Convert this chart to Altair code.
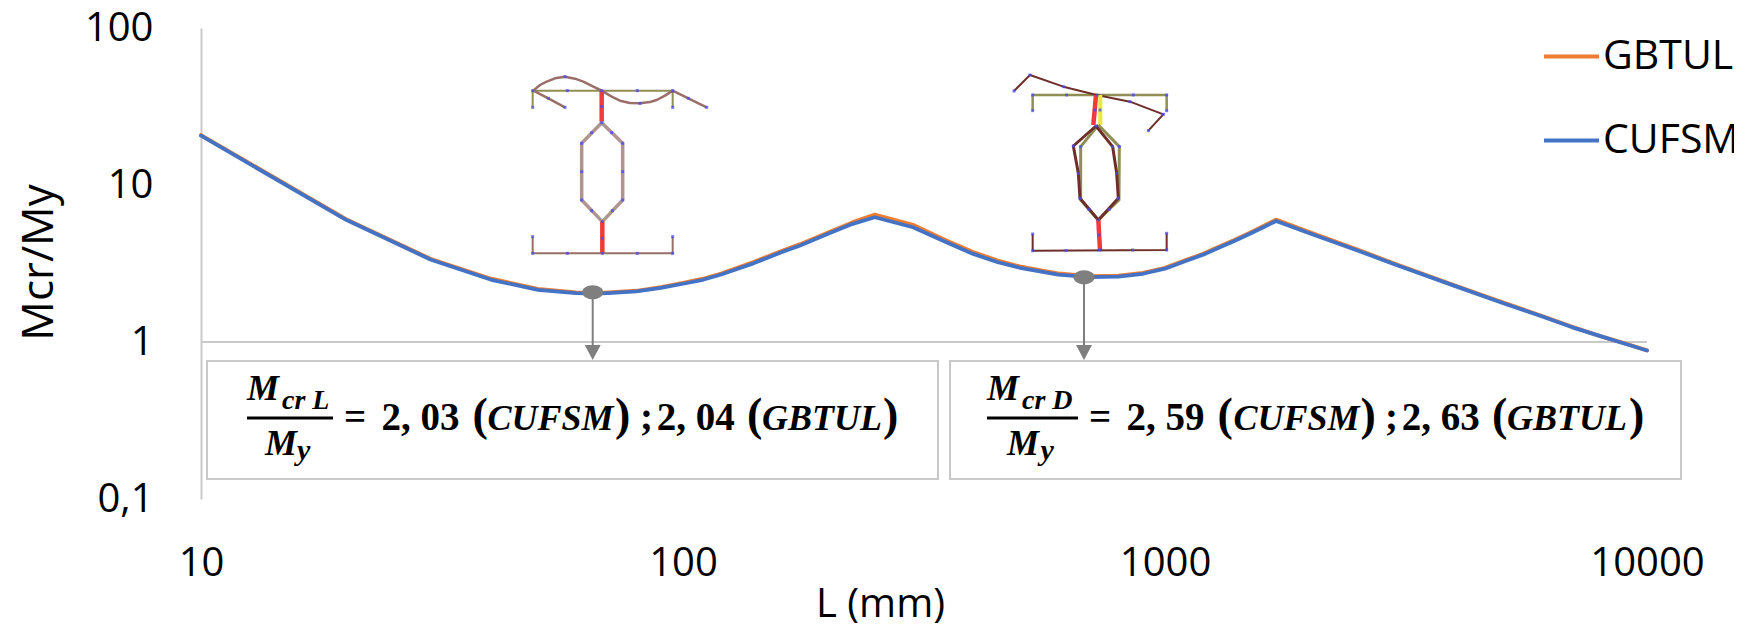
import altair as alt
import pandas as pd

# ---- curve values
L = [10, 20, 30, 40, 50, 60, 65, 70, 80, 90, 100, 110, 120, 130, 140, 160, 175, 200, 225, 250, 300, 350, 400, 450, 500, 550, 600, 700, 800, 900,
     1000, 1100, 1200, 1300, 1400, 1500, 1600, 1700, 2000, 2500, 3000, 4000, 5000, 6000, 7000, 8000, 9000, 10000]
CUFSM = [20.6, 6.0, 3.34, 2.49, 2.15, 2.05, 2.03, 2.05, 2.10, 2.21, 2.35, 2.49, 2.69, 2.93, 3.17, 3.73, 4.12, 4.89, 5.66, 6.23, 5.38, 4.35, 3.64, 3.22,
         2.97, 2.82, 2.69, 2.59, 2.61, 2.72, 2.93, 3.27, 3.6, 4.01, 4.43, 4.89, 5.38, 5.9, 4.91, 3.84, 3.12, 2.27, 1.78, 1.47, 1.24, 1.09, 0.975, 0.883]
GBTUL = [20.8, 6.05, 3.38, 2.53, 2.18, 2.07, 2.04, 2.07, 2.12, 2.24, 2.38, 2.53, 2.73, 2.98, 3.23, 3.8, 4.2, 4.98, 5.8, 6.49, 5.58, 4.47, 3.74, 3.3,
         3.03, 2.87, 2.74, 2.63, 2.65, 2.76, 2.97, 3.31, 3.65, 4.07, 4.5, 4.97, 5.48, 6.02, 5.0, 3.9, 3.15, 2.29, 1.8, 1.48, 1.25, 1.09, 0.98, 0.885]
SERIES = ["GBTUL", "CUFSM"]
COLORS = ["#ED7D31", "#4472C4"]
X_TICKS = [10, 100, 1000, 10000]
Y_TICKS = [0.1, 1, 10, 100]

FONT = "Open Sans"
GREY = "#c9c9c9"
W, H = 1446, 471
X0, Y0 = 201, 28  # picture position of the plot area

curve = pd.DataFrame(
    [{"L": l, "ratio": g, "series": "GBTUL"} for l, g in zip(L, GBTUL)]
    + [{"L": l, "ratio": c, "series": "CUFSM"} for l, c in zip(L, CUFSM)]
)

# ---- picture-space scales for the annotations
ax = alt.Scale(domain=[X0, X0 + W], nice=False, zero=False)
ay = alt.Scale(domain=[Y0 + H, Y0], nice=False, zero=False)
PX = alt.X("x:Q", scale=ax, axis=None)
PY = alt.Y("y:Q", scale=ay, axis=None)

# ---- cross-section sketches, (x, y) in crop units
OLIVE = "#8f8f55"
BROWN = "#9a6f6a"
PALE = "#b09490"
DARK = "#6e2f2a"
RED = "#f23a3a"
YEL = "#eee83a"
S1 = [
    (OLIVE, 2, [(158, 172), (158, 122), (578, 122), (578, 172)]),
    (BROWN, 2.5, [(255, 172), (205, 145), (160, 122), (180, 105), (200, 95), (225, 85), (255, 80), (285, 86), (310, 95),
                  (340, 110), (365, 122), (395, 140), (420, 152), (450, 159), (480, 160), (510, 156), (530, 150),
                  (555, 137), (578, 122), (625, 145), (680, 172)]),
    (RED, 4.5, [(365, 122), (365, 215)]),
    (PALE, 3.5, [(365, 218), (305, 280), (305, 450), (367, 515), (428, 450), (428, 280), (365, 218)]),
    (RED, 4.5, [(367, 515), (367, 610)]),
    (BROWN, 2, [(158, 560), (158, 610), (578, 610), (578, 560)]),
]
S1_NODES = [(158, 122), (158, 172), (262, 122), (365, 122), (472, 122), (578, 122), (578, 172), (205, 145), (255, 172),
            (625, 145), (680, 172), (255, 80), (480, 160), (365, 170), (365, 218), (335, 248), (395, 248), (305, 280),
            (428, 280), (305, 365), (428, 365), (305, 450), (428, 450), (335, 482), (397, 482), (367, 515), (367, 565),
            (158, 560), (158, 610), (262, 610), (367, 610), (472, 610), (578, 610), (578, 560)]
S2 = [
    (OLIVE, 2.5, [(128, 182), (128, 135), (530, 135), (530, 182)]),
    (DARK, 2, [(72, 123), (120, 75), (220, 110), (320, 135), (420, 155), (520, 193), (475, 242)]),
    (RED, 4.5, [(318, 135), (310, 225)]),
    (YEL, 4, [(331, 135), (331, 225)]),
    (OLIVE, 3, [(325, 225), (272, 290), (272, 450), (325, 510), (387, 450), (388, 290), (325, 225)]),
    (DARK, 3, [(318, 228), (250, 288), (265, 370), (270, 445), (325, 510), (385, 445), (380, 370), (368, 290), (318, 228)]),
    (RED, 4.5, [(325, 510), (330, 600)]),
    (DARK, 2, [(128, 552), (128, 602), (530, 600), (530, 550)]),
]
S2_NODES = [(72, 123), (120, 75), (220, 110), (320, 135), (420, 155), (520, 193), (475, 242), (128, 135), (128, 182),
            (230, 135), (430, 135), (530, 135), (530, 182), (315, 180), (330, 180), (318, 228), (250, 288), (272, 290),
            (388, 290), (368, 290), (265, 370), (380, 370), (270, 445), (385, 445), (297, 478), (357, 478), (325, 510),
            (327, 555), (128, 552), (128, 602), (228, 602), (328, 600), (428, 600), (530, 600), (530, 550)]

rows, nodes = [], []
k = 0
for sketch, nd, ox, oy in ((S1, S1_NODES, 480, 50), (S2, S2_NODES, 990, 50)):
    for color, width, pts in sketch:
        k += 1
        for i, (a, b) in enumerate(pts):
            rows.append({"x": ox + a / 3, "y": oy + b / 3, "g": k, "i": i, "c": color, "w": width})
    for a, b in nd:
        nodes.append({"x": ox + a / 3, "y": oy + b / 3})
sketch_df = pd.DataFrame(rows)
nodes_df = pd.DataFrame(nodes)

sketch_lines = alt.Chart(sketch_df).mark_line(strokeJoin="round", clip=False).encode(
    x=PX, y=PY, detail="g:N", order="i:Q",
    stroke=alt.Stroke("c:N", scale=None),
    strokeWidth=alt.StrokeWidth("w:Q", scale=None),
)
sketch_nodes = alt.Chart(nodes_df).mark_point(filled=True, color="#4a4af0", opacity=0.75, size=9, shape="square").encode(x=PX, y=PY)

# ---- annotation boxes
BOX_LEFT = [207, 950]
BOX_RIGHT = [938, 1681]
BOX_TOP = [361, 361]
BOX_BOTTOM = [479, 479]
boxes = alt.Chart(pd.DataFrame({"x": BOX_LEFT, "x2": BOX_RIGHT, "y": BOX_TOP, "y2": BOX_BOTTOM})).mark_rect(
    fill="white", stroke=GREY, strokeWidth=2
).encode(x=PX, x2="x2:Q", y=PY, y2="y2:Q")

# ---- markers and arrows
MARK_X = [592.7, 1084]
MARK_Y = [292.3, 277.3]
STEM_END = [348, 348]
TIP_Y = [352.5, 352.5]
GREY2 = "#7f7f7f"
stems = alt.Chart(pd.DataFrame({"x": MARK_X, "y": MARK_Y, "y2": STEM_END})).mark_rule(color=GREY2, strokeWidth=2).encode(
    x=PX, y=PY, y2="y2:Q")
dots = alt.Chart(pd.DataFrame({"x": MARK_X, "y": MARK_Y})).mark_point(
    filled=True, color=GREY2, opacity=1, size=441,
    shape="M-1,0A1,0.67,0,1,1,1,0A1,0.67,0,1,1,-1,0Z",
).encode(x=PX, y=PY)
tips = alt.Chart(pd.DataFrame({"x": MARK_X, "y": TIP_Y})).mark_point(
    filled=True, color=GREY2, opacity=1, size=256,
    shape="M-1,-0.94L1,-0.94L0,0.94Z",
).encode(x=PX, y=PY)

# ---- formula text
FRAC_X = [247, 987]
FRAC_X2 = [333, 1078]
FRAC_Y = [418, 418]
frac = alt.Chart(pd.DataFrame({"x": FRAC_X, "x2": FRAC_X2, "y": FRAC_Y})).mark_rule(color="black", strokeWidth=3).encode(
    x=PX, x2="x2:Q", y=PY)

EQ_Y = 430
UP_T = ["=", "2, 03", "(", ")", ";", "2, 04", "(", ")", "=", "2, 59", "(", ")", ";", "2, 63", "(", ")"]
UP_X = [344, 381.5, 472.6, 615, 640, 656.7, 747, 883, 1089, 1126.6, 1217.6, 1360.4, 1385, 1401.7, 1492, 1629]
UP_S = [39, 39, 46, 46, 39, 39, 46, 46, 39, 39, 46, 46, 39, 39, 46, 46]
IT_T = ["CUFSM", "GBTUL", "CUFSM", "GBTUL", "M", "M", "M", "M", "cr L", "cr D", "y", "y"]
IT_X = [487.5, 762, 1233.5, 1507, 247, 987, 265, 1007, 282, 1022, 297, 1040.5]
IT_Y = [EQ_Y, EQ_Y, EQ_Y, EQ_Y, 400, 400, 455, 455, 409, 409, 460, 460]
IT_S = [36, 36, 36, 36, 36, 36, 36, 36, 28, 28, 30, 30]

up_text = alt.Chart(pd.DataFrame({"x": UP_X, "y": [EQ_Y] * len(UP_X), "t": UP_T, "s": UP_S})).mark_text(
    font="Liberation Serif", fontWeight="bold", align="left", baseline="alphabetic", color="black"
).encode(x=PX, y=PY, text="t:N", size=alt.Size("s:Q", scale=None))
it_text = alt.Chart(pd.DataFrame({"x": IT_X, "y": IT_Y, "t": IT_T, "s": IT_S})).mark_text(
    font="Liberation Serif", fontWeight="bold", fontStyle="italic", align="left", baseline="alphabetic", color="black"
).encode(x=PX, y=PY, text="t:N", size=alt.Size("s:Q", scale=None))

# ---- main chart
x_main = alt.X(
    "L:Q",
    scale=alt.Scale(type="log", domain=[10, 10000], nice=False),
    axis=alt.Axis(
        values=X_TICKS, format="d", ticks=False, grid=False, domain=False,
        labelFont=FONT, labelFontSize=40, labelColor="black", labelPadding=64, labelFlush=False,
        labelOverlap=False, labelBaseline="middle",
        title="L (mm)", titleFont=FONT, titleFontSize=40, titleFontWeight="normal", titleColor="black",
        titleX=679, titleY=105, titleAnchor="middle", titleAlign="center", titleBaseline="middle",
    ),
)
y_main = alt.Y(
    "ratio:Q",
    scale=alt.Scale(type="log", domain=[0.1, 100], nice=False),
    axis=alt.Axis(
        values=Y_TICKS, labelExpr="replace(format(datum.value, '~g'), '.', ',')", ticks=False, grid=False,
        domain=True, domainColor=GREY, domainWidth=2,
        labelFont=FONT, labelFontSize=40, labelColor="black", labelPadding=48, labelOverlap=False, labelFlush=False,
        labelOffset=0,
        title="Mcr/My", titleFont=FONT, titleFontSize=44, titleFontWeight="normal", titleColor="black",
        titleX=-162, titleY=234, titleAngle=-90, titleAlign="center", titleBaseline="middle",
    ),
)
lines = alt.Chart(curve).mark_line(strokeWidth=3.8, strokeCap="round", strokeJoin="round", clip=False).encode(
    x=x_main,
    y=y_main,
    color=alt.Color(
        "series:N",
        scale=alt.Scale(domain=SERIES, range=COLORS),
        legend=alt.Legend(
            title=None, orient="none", legendX=1341, legendY=-1,
            symbolType="stroke", symbolSize=3025, symbolStrokeWidth=3.8,
            labelFont=FONT, labelFontSize=41, labelColor="black", labelOffset=2, labelLimit=300,
            rowPadding=34,
        ),
    ),
    order=alt.Order("series_order:Q"),
).transform_calculate(series_order="datum.series === 'GBTUL' ? 0 : 1")

RULE_VALUE = [1]
RULE_L = [10]
RULE_L2 = [10000]
unit_rule = alt.Chart(pd.DataFrame({"L": RULE_L, "L2": RULE_L2, "ratio": RULE_VALUE})).mark_rule(
    color=GREY, strokeWidth=2
).encode(x=x_main, x2="L2:Q", y=y_main)

main = alt.layer(unit_rule, lines)
annot = alt.layer(boxes, sketch_lines, sketch_nodes, stems, dots, tips, frac, up_text, it_text)

chart = alt.layer(main, annot).resolve_scale(x="independent", y="independent").properties(
    width=W, height=H,
    padding={"left": X0 - 8, "top": Y0 - 8, "right": 1734 - X0 - W + 8 - 8, "bottom": 127},
    autosize=alt.AutoSizeParams(type="none"),
).configure_view(stroke=None)

chart.save("out.html", embed_options={"renderer": "svg", "actions": False})
